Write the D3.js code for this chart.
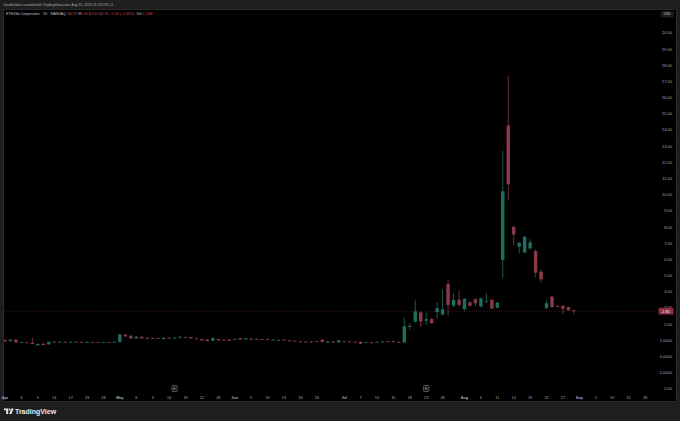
<!DOCTYPE html>
<html><head><meta charset="utf-8">
<script src="https://cdn.jsdelivr.net/npm/d3@7"></script>
<style>html,body{margin:0;padding:0;background:#1e1e1e;}svg{display:block;}</style>
</head><body>
<svg id="c" width="680" height="421"></svg>
<script>
// ---- data ----
const dates = [
"04-01","04-02","04-03","04-04","04-07","04-08","04-09","04-10","04-11","04-14","04-15","04-16","04-17","04-21","04-22","04-23","04-24","04-25","04-28","04-29","04-30",
"05-01","05-02","05-05","05-06","05-07","05-08","05-09","05-12","05-13","05-14","05-15","05-16","05-19","05-20","05-21","05-22","05-23","05-27","05-28","05-29","05-30",
"06-02","06-03","06-04","06-05","06-06","06-09","06-10","06-11","06-12","06-13","06-16","06-17","06-18","06-20","06-23","06-24","06-25","06-26","06-27","06-30",
"07-01","07-02","07-03","07-07","07-08","07-09","07-10","07-11","07-14","07-15","07-16","07-17","07-18","07-21","07-22","07-23","07-24","07-25","07-28","07-29","07-30","07-31",
"08-01","08-04","08-05","08-06","08-07","08-08","08-11","08-12","08-13","08-14","08-15","08-18","08-19","08-20","08-21","08-22","08-25","08-26","08-27","08-28","08-29"];
const futureDates = ["09-02","09-03","09-04","09-05","09-08","09-09","09-10","09-11","09-12","09-15","09-16","09-17","09-18"];
const open = [1.03,0.96,1.05,0.86,0.88,0.86,0.70,0.80,0.76,0.92,0.88,0.92,0.89,0.92,0.91,0.89,0.91,0.90,0.88,0.90,
0.87,0.90,1.36,1.29,1.13,1.23,1.17,1.16,1.15,1.09,1.17,1.13,1.17,1.21,1.21,1.13,1.09,1.05,0.98,1.09,
1.05,1.05,1.05,1.13,1.07,1.11,1.10,1.09,1.08,1.01,0.98,1.05,1.01,0.98,0.94,0.94,0.93,0.96,1.05,0.88,
0.94,0.88,0.94,0.94,0.92,0.92,0.86,0.88,0.88,0.90,0.96,0.96,0.92,0.88,1.84,2.17,2.73,2.22,2.32,2.75,
2.61,4.49,3.14,3.51,2.93,3.36,3.55,3.10,3.38,3.51,3.02,5.97,14.28,8.02,6.79,6.44,6.69,6.52,5.25,2.99,
3.71,3.14,3.14,3.06,2.87];
const high = [1.05,1.07,1.06,0.92,0.90,1.17,0.82,0.82,0.93,0.94,0.93,0.94,0.93,0.94,0.93,0.93,0.92,0.92,0.91,0.91,
0.93,1.38,1.38,1.31,1.25,1.25,1.19,1.18,1.17,1.18,1.19,1.18,1.25,1.23,1.22,1.15,1.11,1.07,1.17,1.11,
1.06,1.07,1.10,1.15,1.14,1.13,1.12,1.10,1.10,1.06,1.04,1.06,1.02,1.00,0.96,0.95,0.95,0.98,1.08,0.96,
0.96,1.03,0.96,0.95,0.93,0.94,0.92,0.90,0.93,0.96,0.98,0.97,0.94,2.38,2.07,3.47,2.80,2.73,2.40,3.34,
4.16,4.74,3.92,4.08,3.62,3.42,3.61,3.67,3.92,3.55,3.38,12.70,17.35,8.10,7.10,7.45,7.26,6.63,5.40,3.47,
3.75,3.17,3.16,3.09,2.90];
const low = [0.93,0.95,0.86,0.84,0.82,0.78,0.68,0.72,0.74,0.86,0.86,0.88,0.87,0.88,0.87,0.87,0.87,0.86,0.86,0.86,
0.86,0.88,1.22,1.10,1.11,1.11,1.09,1.12,1.09,1.07,1.12,1.11,1.15,1.16,1.11,1.06,1.00,0.94,0.96,1.00,
1.00,0.97,1.03,1.04,1.05,1.04,1.03,1.03,1.02,0.99,0.96,0.99,0.94,0.92,0.88,0.86,0.86,0.90,0.89,0.86,
0.86,0.86,0.88,0.88,0.86,0.76,0.84,0.82,0.86,0.88,0.90,0.88,0.87,0.86,1.66,2.10,1.81,1.97,2.05,2.38,
2.55,2.56,3.05,3.10,2.85,3.10,3.10,3.05,3.34,2.95,2.98,4.84,9.66,6.89,6.38,6.40,6.60,4.90,4.57,2.95,
3.02,3.06,2.63,2.83,2.65];
const close = [0.94,1.05,0.88,0.90,0.84,0.78,0.78,0.72,0.92,0.88,0.92,0.90,0.92,0.90,0.89,0.91,0.89,0.88,0.90,0.88,
0.92,1.37,1.25,1.13,1.23,1.13,1.11,1.13,1.11,1.17,1.13,1.16,1.23,1.18,1.13,1.09,1.01,0.96,1.15,1.01,
1.01,0.98,1.09,1.05,1.13,1.05,1.05,1.05,1.03,1.05,1.03,1.01,0.96,0.94,0.90,0.88,0.88,0.92,0.90,0.94,
0.88,1.01,0.90,0.90,0.88,0.80,0.90,0.84,0.92,0.94,0.92,0.90,0.88,1.87,1.90,2.79,2.17,2.32,2.07,2.99,
2.93,3.20,3.51,3.20,3.57,3.14,3.30,3.59,3.42,2.97,3.34,10.22,10.65,7.55,7.04,7.41,7.06,5.19,4.78,3.30,
3.06,3.08,2.97,2.87,2.81];
const tickDates = ["04-01","04-04","04-09","04-14","04-17","04-23","04-28","05-01","05-06","05-09","05-14","05-19","05-22","05-28",
"06-02","06-05","06-10","06-13","06-18","06-24","07-01","07-07","07-10","07-15","07-18","07-23","07-28",
"08-01","08-06","08-11","08-14","08-19","08-22","08-27","09-02","09-05","09-10","09-15","09-18"];
const tickLabels = ["Apr","4","9","14","17","23","28","May","6","9","14","19","22","28",
"Jun","5","10","13","18","24","Jul","7","10","15","18","23","28",
"Aug","6","11","14","19","22","27","Sep","5","10","15","18"];
const priceTicks = [20,19,18,17,16,15,14,13,12,11,10,9,8,7,6,5,4,3,2,1,0,-1,-2];
const priceLabels = ["20.00","19.00","18.00","17.00","16.00","15.00","14.00","13.00","12.00","11.00","10.00","9.00","8.00","7.00","6.00","5.00","4.00","3.00","2.00","1.0000","0.0000","-1.0000","-2.00"];
const eventDates = ["05-15","07-23"];
const eventLabels = ["E","E"];

// ---- drawing ----
const svg = d3.select("#c");
const W = 680, H = 421;
const font = "'Liberation Sans', Arial, sans-serif";
const UP = "#1f6e61", DOWN = "#8c3a4a";

svg.append("rect").attr("width", W).attr("height", H).attr("fill", "#1e1e1e");
// chart panel
svg.append("rect").attr("x", 3.5).attr("y", 9.5).attr("width", 673).attr("height", 392)
  .attr("rx", 2).attr("fill", "#000").attr("stroke", "#2b2b2b");

const x = d3.scalePoint().domain(dates.concat(futureDates)).range([5, 645]);
const y = d3.scaleLinear().domain([-2, 20]).range([389, 33]);

const clip = svg.append("clipPath").attr("id", "pc").append("rect")
  .attr("x", 4).attr("y", 10).attr("width", 672).attr("height", 391);

const plot = svg.append("g").attr("clip-path", "url(#pc)");

// last price line
const last = close[close.length - 1];
plot.append("line").attr("x1", 4).attr("x2", 656).attr("y1", y(last)).attr("y2", y(last))
  .attr("stroke", "#6b2835").attr("stroke-width", 0.6).attr("stroke-dasharray", "1,1.5");

const bars = dates.map((d, i) => ({d, o: open[i], h: high[i], l: low[i], c: close[i]}));
const bw = 3.4;
const g = plot.append("g");
g.selectAll("line.w").data(bars).join("line")
  .attr("x1", b => x(b.d)).attr("x2", b => x(b.d))
  .attr("y1", b => y(b.h)).attr("y2", b => y(b.l))
  .attr("stroke", b => b.c >= b.o ? UP : DOWN).attr("stroke-width", 0.8);
g.selectAll("rect.b").data(bars).join("rect")
  .attr("x", b => x(b.d) - bw / 2).attr("width", bw)
  .attr("y", b => y(Math.max(b.o, b.c)))
  .attr("height", b => Math.max(0.8, Math.abs(y(b.o) - y(b.c))))
  .attr("fill", b => b.c >= b.o ? UP : DOWN);

// price axis labels
const pa = svg.append("g");
pa.selectAll("text").data(priceTicks).join("text")
  .attr("x", 672).attr("y", v => y(v)).attr("dy", "0.35em")
  .attr("text-anchor", "end").attr("font-family", font).attr("font-size", 4)
  .attr("fill", "#a8abb3").text((v, i) => priceLabels[i]);

// last price label
pa.append("rect").attr("x", 658.5).attr("y", y(last) - 3.4).attr("width", 15).attr("height", 6.8)
  .attr("rx", 1).attr("fill", "#8c2f40");
pa.append("text").attr("x", 666).attr("y", y(last)).attr("dy", "0.35em").attr("text-anchor", "middle")
  .attr("font-family", font).attr("font-size", 4).attr("fill", "#fff").text(last.toFixed(2));

// USD box
pa.append("rect").attr("x", 661).attr("y", 11.5).attr("width", 12.5).attr("height", 5.5)
  .attr("rx", 1).attr("fill", "#1a1a1a").attr("stroke", "#333").attr("stroke-width", 0.4);
pa.append("text").attr("x", 667.2).attr("y", 14.3).attr("dy", "0.35em").attr("text-anchor", "middle")
  .attr("font-family", font).attr("font-size", 3.4).attr("fill", "#c8c8c8").text("USD");

// time axis labels
const ta = svg.append("g");
ta.selectAll("text").data(tickDates).join("text")
  .attr("x", d => x(d)).attr("y", 397.5).attr("dy", "0.35em").attr("text-anchor", "middle")
  .attr("font-family", font).attr("font-size", 3.8)
  .attr("font-weight", (d, i) => isNaN(+tickLabels[i]) ? "bold" : "normal")
  .attr("fill", "#a8abb3").text((d, i) => tickLabels[i]);

// event markers
const ev = svg.append("g");
eventDates.forEach((d, i) => {
  ev.append("rect").attr("x", x(d) - 2.6).attr("y", 385.5).attr("width", 5.2).attr("height", 6)
    .attr("rx", 0.8).attr("fill", "#111").attr("stroke", "#8a8a8a").attr("stroke-width", 0.6);
  ev.append("text").attr("x", x(d)).attr("y", 388.6).attr("dy", "0.35em").attr("text-anchor", "middle")
    .attr("font-family", font).attr("font-size", 3.6).attr("fill", "#bbb").text(eventLabels[i]);
});

// header
svg.append("text").attr("x", 3.5).attr("y", 4.8).attr("dy", "0.35em")
  .attr("font-family", font).attr("font-size", 3.5).attr("fill", "#b0b0b0")
  .text("DoubleGars created with TradingView.com, Aug 31, 2025 11:59 UTC-4");

const legendParts = [
  ["ETHZilla Corporation · 1D · NASDAQ  ", "#c8c8c8"],
  ["O", "#c8c8c8"], [open[104].toFixed(2) + " ", "#c0405a"],
  ["H", "#c8c8c8"], [high[104].toFixed(2) + " ", "#c0405a"],
  ["L", "#c8c8c8"], [low[104].toFixed(2) + " ", "#c0405a"],
  ["C", "#c8c8c8"], [close[104].toFixed(2) + " −0.06 (−2.09%)  ", "#c0405a"],
  ["Vol ", "#c8c8c8"], ["1.24M", "#c0405a"]
];
const lt = svg.append("text").attr("x", 6).attr("y", 13.4).attr("dy", "0.35em")
  .attr("font-family", font).attr("font-size", 3.6).attr("xml:space", "preserve");
legendParts.forEach(p => lt.append("tspan").attr("fill", p[1]).text(p[0]));

// footer logo
const fl = svg.append("g").attr("transform", "translate(4,408.5)");
fl.append("path").attr("d", "M0,0 H4.2 V5.6 H2.2 V1.8 H0 Z").attr("fill", "#e8e8e8");
fl.append("circle").attr("cx", 5.6).attr("cy", 1).attr("r", 0.95).attr("fill", "#e8e8e8");
fl.append("path").attr("d", "M7.4,0 H9.6 L7.4,5.6 H5.2 Z").attr("fill", "#e8e8e8");
svg.append("text").attr("x", 15).attr("y", 411.5).attr("dy", "0.35em")
  .attr("font-family", font).attr("font-size", 7).attr("font-weight", "bold")
  .attr("fill", "#e8e8e8").text("TradingView");
</script>
</body></html>
